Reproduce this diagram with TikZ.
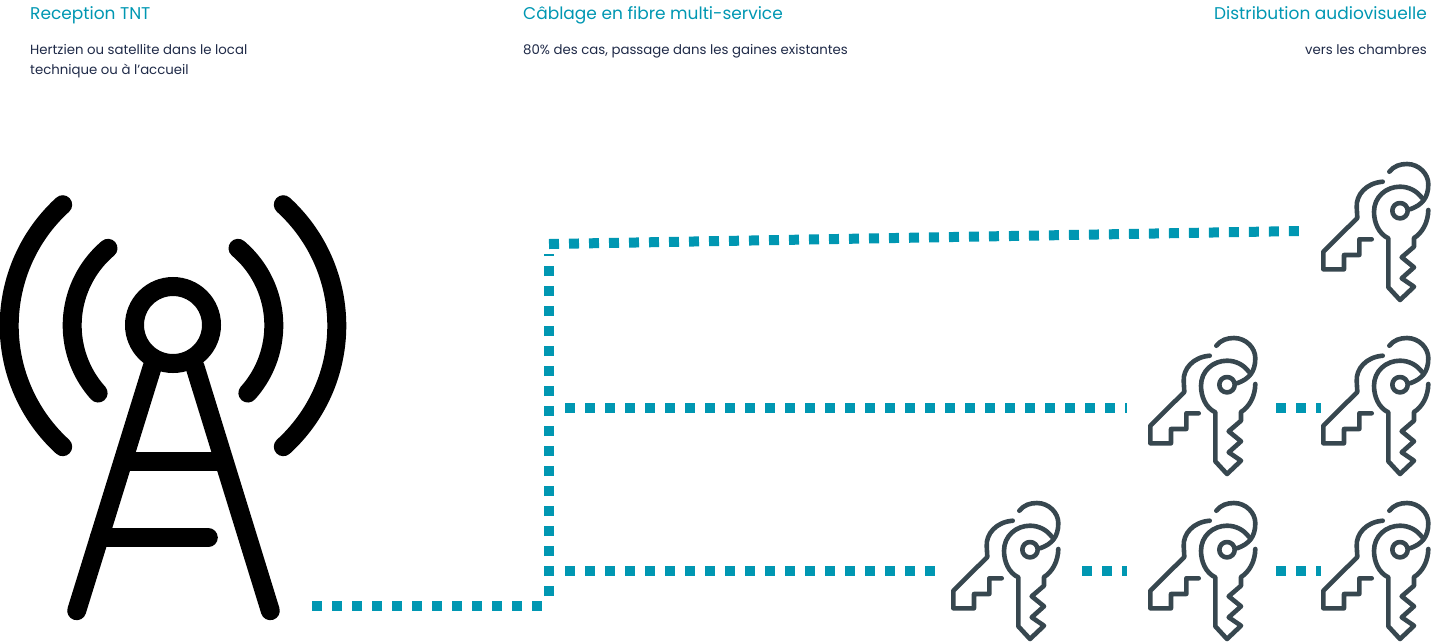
\documentclass[tikz,border=0pt]{standalone}
\usepackage{fontspec}
\setmainfont{Poppins}
\definecolor{tealfib}{HTML}{0097B2}
\definecolor{navytxt}{HTML}{1F2A48}
\definecolor{keygrey}{HTML}{37474F}
\tikzset{
	titre/.style={text=tealfib, font=\fontsize{17}{20}\selectfont, inner sep=0pt},
	soustitre/.style={text=navytxt, font=\fontsize{13.3}{20}\selectfont, inner sep=0pt},
	fibre/.style={draw=tealfib, line width=10pt, dash pattern=on 10pt off 10pt},
	mat/.style={draw=black, line width=19pt, line cap=round},
	keyicon/.pic={
		\begin{scope}[draw=keygrey, line width=4.6pt, line cap=round, line join=round]
			\draw (82.7,31.7) .. controls (66,33) and (56,45) .. (56.7,57) -- (57.3,68) -- (23.3,101.7) -- (23.3,119.3) -- (44,119.3) -- (44,105) -- (59.3,105) -- (59.3,89.3) -- (71.7,89.3);
			\draw (128.3,60) .. controls (128,73) and (122,83) .. (114,88) -- (114,96.7) -- (101.7,107.3) -- (114,117.3) -- (101.7,128.3) -- (114,136.7) -- (100,150) -- (88.3,137.3) -- (88.3,88.3) .. controls (79,84) and (74,73) .. (74,61.7) .. controls (74,47) and (86,36.7) .. (100,36.7) .. controls (109,36.7) and (117,41) .. (122,48);
			\draw (89.3,21.7) .. controls (94,16) and (100,14) .. (107,14) .. controls (119,14) and (128.3,24) .. (128.3,34) .. controls (128.3,48) and (122,55) .. (110,59.3);
			\draw (100,60.7) circle (7.7);
		\end{scope}
	}
}
\begin{document}
\begin{tikzpicture}[x=1pt,y=-1pt]
	\useasboundingbox (0,0) rectangle (1431,641);
	% textes
	\node[titre, anchor=base west] (recep) at (30,19) {Reception TNT};
	\node[soustitre, anchor=base west] (recepa) at (30,54) {Hertzien ou satellite dans le local};
	\node[soustitre, anchor=base west] (recepb) at (30,74) {technique ou à l’accueil};
	\node[titre, anchor=base west] (cabl) at (523,19) {Câblage en fibre multi-service};
	\node[soustitre, anchor=base west] (cabla) at (523,54) {80\% des cas, passage dans les gaines existantes};
	\node[titre, anchor=base east] (distr) at (1427,19) {Distribution audiovisuelle};
	\node[soustitre, anchor=base east] (distra) at (1427,54) {vers les chambres};
	% antenne
	\coordinate (c) at (173,325);
	\draw[mat] (62.7,204.7) arc[start angle=227.7, end angle=132.3, radius=163.6];
	\draw[mat] (283.3,204.7) arc[start angle=-47.7, end angle=47.7, radius=163.6];
	\draw[mat] (108,248.3) arc[start angle=229.8, end angle=138, radius=101];
	\draw[mat] (238,248.3) arc[start angle=-49.8, end angle=42, radius=101];
	\draw[mat] (c) circle (38.5);
	\draw[mat] (76.7,610.7) -- (152.3,366.7);
	\draw[mat] (270.3,610.7) -- (195,366.7);
	\draw[mat, line cap=butt] (123,461) -- (224,461);
	\draw[mat] (99.3,537.7) -- (208.3,537.7);
	% cles
	\pic at (1300,150) {keyicon};
	\pic at (1300,324) {keyicon};
	\pic at (1127,324) {keyicon};
	\pic at (1300,489) {keyicon};
	\pic at (1127,489) {keyicon};
	\pic at (930,489) {keyicon};
	% fibre
	\coordinate (dep) at (312,606);
	\coordinate (coude) at (549,606);
	\coordinate (haut) at (549,244);
	\coordinate (cleA) at (1299,231);
	\coordinate (brB) at (565,408);
	\coordinate (cleB) at (1127,408);
	\coordinate (cleBa) at (1276,408);
	\coordinate (cleBb) at (1321,408);
	\coordinate (brC) at (565,571);
	\coordinate (cleC) at (936,571);
	\coordinate (cleCa) at (1082,571);
	\coordinate (cleCb) at (1127,571);
	\coordinate (cleCc) at (1276,571);
	\coordinate (cleCd) at (1321,571);
	\draw[fibre] (dep) -- (coude);
	\draw[fibre] (549,596) -- (549,254);
	\draw[fibre] (haut) -- (cleA);
	\draw[fibre] (brB) -- (cleB);
	\draw[fibre] (cleBa) -- (cleBb);
	\draw[fibre] (brC) -- (cleC);
	\draw[fibre] (cleCa) -- (cleCb);
	\draw[fibre] (cleCc) -- (cleCd);
\end{tikzpicture}
\end{document}
